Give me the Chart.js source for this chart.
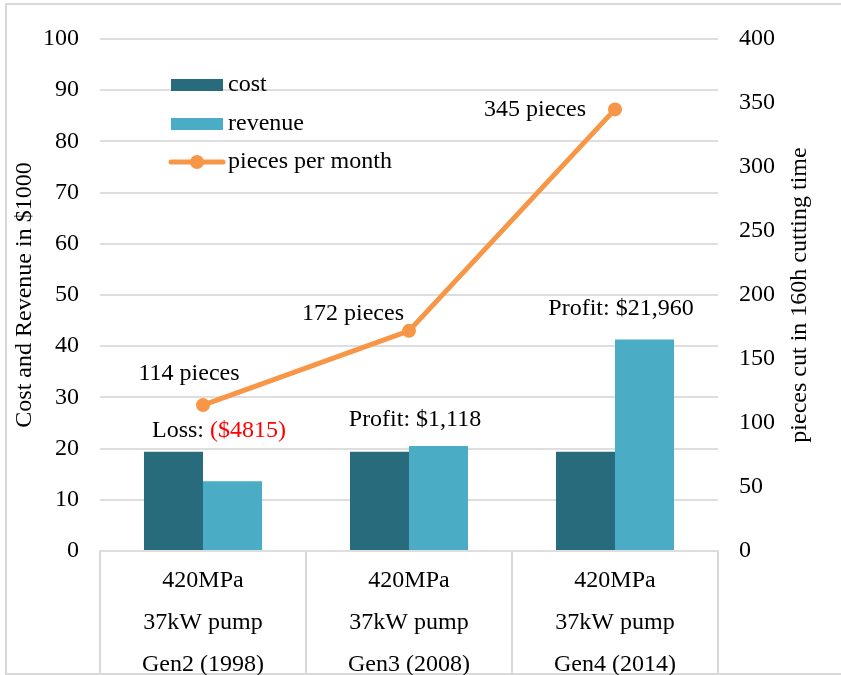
<!DOCTYPE html>
<html lang="en">
<head>
    <meta charset="UTF-8">
    <title>Cost, revenue and pieces per month</title>
    <style>
        html, body {
            margin: 0;
            padding: 0;
            background: #fff;
            overflow: hidden;
        }
        #wrap {
            position: relative;
            width: 841px;
            height: 675px;
        }
    </style>
</head>
<body>
    <div id="wrap"><canvas id="myChart"></canvas></div>
    <script src="https://cdn.jsdelivr.net/npm/chart.js"></script>
    <script>
        // data
        const categories = [
            ['420MPa', '37kW pump', 'Gen2 (1998)'],
            ['420MPa', '37kW pump', 'Gen3 (2008)'],
            ['420MPa', '37kW pump', 'Gen4 (2014)']
        ];
        const cost = [19.4, 19.4, 19.4];
        const revenue = [13.6, 20.5, 41.3];
        const pieces = [114, 172, 345];
        const resultWord = ['Loss: ', 'Profit: ', 'Profit: '];
        const resultAmount = ['($4815)', '$1,118', '$21,960'];
        const leftTicks = [0, 10, 20, 30, 40, 50, 60, 70, 80, 90, 100];
        const rightTicks = [0, 50, 100, 150, 200, 250, 300, 350, 400];

        const FONT = 'Liberation Serif';
        const FSIZE = 24;
        const GRID = '#dedede';
        const COST_COL = '#286b7d';
        const REV_COL = '#4bacc6';
        const LINE_COL = '#f79646';

        // hand placed labels, like in the original (offsets in px)
        const noteShift = [[16, -21], [6, -26], [6, -31]];
        const pieceShift = [[-14, -31], [-56, -17], [-80, 0]];

        const extras = {
            id: 'extras',
            beforeDraw(chart) {
                const c = chart.ctx;
                c.save();
                c.strokeStyle = '#d9d9d9';
                c.lineWidth = 2;
                c.beginPath();
                c.moveTo(6, 675);
                c.lineTo(6, 4);
                c.lineTo(841, 4);
                c.moveTo(6, 674);
                c.lineTo(841, 674);
                c.stroke();
                c.restore();
            },
            afterDraw(chart) {
                const c = chart.ctx;
                const area = chart.chartArea;
                const x = chart.scales.x;
                const y = chart.scales.y;
                c.save();
                c.font = FSIZE + 'px "' + FONT + '"';
                c.textBaseline = 'middle';

                // profit / loss notes above the bars
                categories.forEach((cat, i) => {
                    const top = y.getPixelForValue(Math.max(cost[i], revenue[i]));
                    const cx = x.getPixelForValue(i) + noteShift[i][0];
                    const cy = top + noteShift[i][1];
                    const w1 = c.measureText(resultWord[i]).width;
                    const w2 = c.measureText(resultAmount[i]).width;
                    let sx = cx - (w1 + w2) / 2;
                    c.textAlign = 'left';
                    c.fillStyle = '#000';
                    c.fillText(resultWord[i], sx, cy);
                    c.fillStyle = resultWord[i].startsWith('Loss') ? '#ff0000' : '#000';
                    c.fillText(resultAmount[i], sx + w1, cy);
                });

                // piece labels next to the line points
                const meta = chart.getDatasetMeta(2);
                meta.data.forEach((pt, i) => {
                    c.textAlign = 'center';
                    c.fillStyle = '#000';
                    c.fillText(pieces[i] + ' pieces', pt.x + pieceShift[i][0], pt.y + pieceShift[i][1]);
                });

                // legend
                const lx = area.left + 71;
                const rows = [area.top + 46, area.top + 85, area.top + 123];
                c.textAlign = 'left';
                chart.data.datasets.forEach((ds, i) => {
                    const ry = rows[i];
                    if (ds.type === 'line') {
                        c.strokeStyle = ds.borderColor;
                        c.lineWidth = 5;
                        c.lineCap = 'round';
                        c.beginPath();
                        c.moveTo(lx, ry);
                        c.lineTo(lx + 52, ry);
                        c.stroke();
                        c.fillStyle = ds.borderColor;
                        c.beginPath();
                        c.arc(lx + 26, ry, 7, 0, Math.PI * 2);
                        c.fill();
                    } else {
                        c.fillStyle = ds.backgroundColor;
                        c.fillRect(lx, ry - 6, 52, 12);
                    }
                    c.fillStyle = '#000';
                    c.fillText(ds.label, lx + 57, ry);
                });

                // right axis title, reading bottom to top
                c.translate(800, (area.top + area.bottom) / 2);
                c.rotate(-Math.PI / 2);
                c.textAlign = 'center';
                c.fillStyle = '#000';
                c.fillText('pieces cut in 160h cutting time', 0, 0);
                c.restore();
            }
        };

        const ctx = document.getElementById('myChart').getContext('2d');
        const myChart = new Chart(ctx, {
            data: {
                labels: categories,
                datasets: [{
                    type: 'bar',
                    label: 'cost',
                    data: cost,
                    backgroundColor: COST_COL,
                    yAxisID: 'y',
                    order: 1
                }, {
                    type: 'bar',
                    label: 'revenue',
                    data: revenue,
                    backgroundColor: REV_COL,
                    yAxisID: 'y',
                    order: 1
                }, {
                    type: 'line',
                    label: 'pieces per month',
                    data: pieces,
                    borderColor: LINE_COL,
                    backgroundColor: LINE_COL,
                    borderWidth: 5,
                    pointRadius: 7,
                    pointBorderWidth: 0,
                    tension: 0,
                    yAxisID: 'y1',
                    order: 0
                }]
            },
            options: {
                animation: false,
                responsive: true,
                maintainAspectRatio: false,
                categoryPercentage: 0.573,
                barPercentage: 1,
                layout: { padding: { top: 39, left: 0, right: 0, bottom: 0 } },
                plugins: {
                    legend: { display: false },
                    tooltip: { enabled: false }
                },
                scales: {
                    x: {
                        type: 'category',
                        offset: true,
                        grid: {
                            offset: true,
                            drawOnChartArea: false,
                            drawTicks: true,
                            tickLength: 130,
                            color: '#d9d9d9',
                            lineWidth: 2
                        },
                        border: { display: true, color: GRID, width: 2 },
                        ticks: {
                            color: '#000',
                            padding: -121,
                            maxRotation: 0,
                            autoSkip: false,
                            font: { family: FONT, size: FSIZE, lineHeight: 1.75 }
                        },
                        afterFit: s => { s.height = 124; }
                    },
                    y: {
                        position: 'left',
                        min: 0,
                        max: 100,
                        afterBuildTicks: s => { s.ticks = leftTicks.map(v => ({ value: v })); },
                        grid: { color: GRID, lineWidth: 2, drawTicks: false },
                        border: { display: false },
                        ticks: {
                            color: '#000',
                            padding: 21,
                            font: { family: FONT, size: FSIZE }
                        },
                        title: {
                            display: true,
                            text: 'Cost and Revenue in $1000',
                            color: '#000',
                            padding: { top: 10, bottom: 0 },
                            font: { family: FONT, size: FSIZE }
                        },
                        afterFit: s => { s.width = 100; }
                    },
                    y1: {
                        position: 'right',
                        min: 0,
                        max: 400,
                        afterBuildTicks: s => { s.ticks = rightTicks.map(v => ({ value: v })); },
                        grid: { drawOnChartArea: false, drawTicks: false },
                        border: { display: false },
                        ticks: {
                            color: '#000',
                            padding: 21,
                            font: { family: FONT, size: FSIZE }
                        },
                        afterFit: s => { s.width = 123; }
                    }
                }
            },
            plugins: [extras]
        });
    </script>
</body>
</html>
